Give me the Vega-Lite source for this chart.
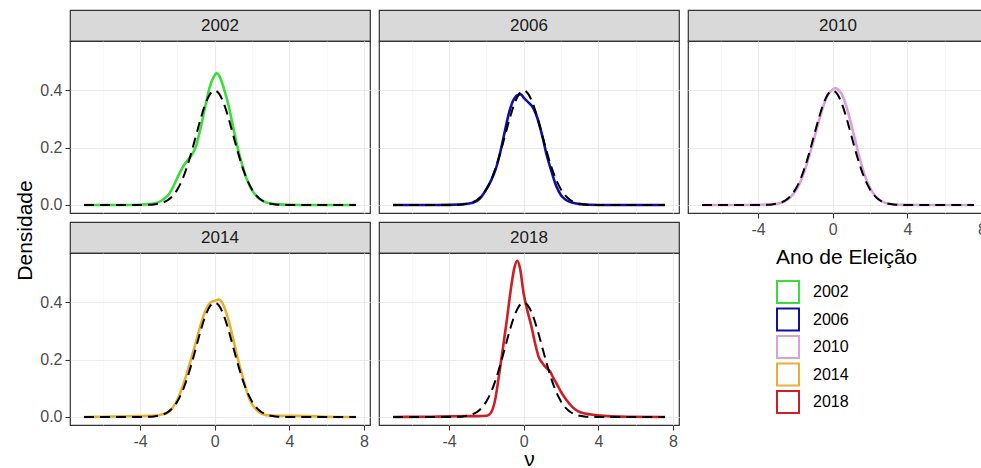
{
  "$schema": "https://vega.github.io/schema/vega-lite/v6.json",
  "padding": {"left": 13, "top": 9, "right": 0, "bottom": 0},
  "background": "white",
  "config": {
    "font": "Liberation Sans",
    "axis": {"domain": false, "tickColor": "#333333", "tickSize": 5, "tickWidth": 1.1, "labelColor": "#4D4D4D", "labelFontSize": 16, "labelPadding": 3, "labelFlush": false, "labelOverlap": false, "titleFontWeight": "normal", "titleColor": "black", "titleFontSize": 21},
    "legend": {"titleFontWeight": "normal", "titleFontSize": 21, "titleColor": "black", "labelFontSize": 16, "labelColor": "black", "symbolType": "square", "symbolSize": 484, "symbolStrokeWidth": 2, "symbolFillColor": "transparent", "labelOffset": 13, "rowPadding": -2.5, "titlePadding": 12}
  },
  "datasets": {
    "strips": [{"year": "2002"}, {"year": "2006"}, {"year": "2010"}, {"year": "2014"}, {"year": "2018"}],
    "norm": [
      {"x": -7.0, "y": 0}, {"x": -5.0, "y": 0}, {"x": -4.0, "y": 0.00013}, {"x": -3.5, "y": 0.00087}, {"x": -3.25, "y": 0.00203},
      {"x": -3.0, "y": 0.00443}, {"x": -2.75, "y": 0.00909}, {"x": -2.5, "y": 0.01753}, {"x": -2.25, "y": 0.03174}, {"x": -2.0, "y": 0.05399},
      {"x": -1.75, "y": 0.08628}, {"x": -1.5, "y": 0.12952}, {"x": -1.25, "y": 0.18265}, {"x": -1.0, "y": 0.24197}, {"x": -0.75, "y": 0.30114},
      {"x": -0.5, "y": 0.35207}, {"x": -0.25, "y": 0.38667}, {"x": 0.0, "y": 0.39894}, {"x": 0.25, "y": 0.38667}, {"x": 0.5, "y": 0.35207},
      {"x": 0.75, "y": 0.30114}, {"x": 1.0, "y": 0.24197}, {"x": 1.25, "y": 0.18265}, {"x": 1.5, "y": 0.12952}, {"x": 1.75, "y": 0.08628},
      {"x": 2.0, "y": 0.05399}, {"x": 2.25, "y": 0.03174}, {"x": 2.5, "y": 0.01753}, {"x": 2.75, "y": 0.00909}, {"x": 3.0, "y": 0.00443},
      {"x": 3.25, "y": 0.00203}, {"x": 3.5, "y": 0.00087}, {"x": 4.0, "y": 0.00013}, {"x": 5.0, "y": 0}, {"x": 7.57, "y": 0}
    ],
    "dens": [
      {"year": "2002", "x": -7.0, "y": 0}, {"year": "2002", "x": -5.0, "y": 0}, {"year": "2002", "x": -4.0, "y": 0.001}, {"year": "2002", "x": -3.5, "y": 0.003},
      {"year": "2002", "x": -3.0, "y": 0.01}, {"year": "2002", "x": -2.75, "y": 0.02}, {"year": "2002", "x": -2.5, "y": 0.034}, {"year": "2002", "x": -2.25, "y": 0.06},
      {"year": "2002", "x": -2.0, "y": 0.095}, {"year": "2002", "x": -1.75, "y": 0.128}, {"year": "2002", "x": -1.5, "y": 0.152}, {"year": "2002", "x": -1.25, "y": 0.172},
      {"year": "2002", "x": -1.0, "y": 0.205}, {"year": "2002", "x": -0.75, "y": 0.27}, {"year": "2002", "x": -0.5, "y": 0.345}, {"year": "2002", "x": -0.25, "y": 0.415},
      {"year": "2002", "x": 0.0, "y": 0.452}, {"year": "2002", "x": 0.1, "y": 0.46}, {"year": "2002", "x": 0.25, "y": 0.45}, {"year": "2002", "x": 0.5, "y": 0.405},
      {"year": "2002", "x": 0.75, "y": 0.345}, {"year": "2002", "x": 1.0, "y": 0.268}, {"year": "2002", "x": 1.25, "y": 0.195}, {"year": "2002", "x": 1.5, "y": 0.135},
      {"year": "2002", "x": 1.75, "y": 0.085}, {"year": "2002", "x": 2.0, "y": 0.052}, {"year": "2002", "x": 2.25, "y": 0.03}, {"year": "2002", "x": 2.5, "y": 0.017},
      {"year": "2002", "x": 2.75, "y": 0.009}, {"year": "2002", "x": 3.0, "y": 0.005}, {"year": "2002", "x": 3.5, "y": 0.002}, {"year": "2002", "x": 4.0, "y": 0.001},
      {"year": "2002", "x": 5.0, "y": 0}, {"year": "2002", "x": 7.57, "y": 0},

      {"year": "2006", "x": -7.0, "y": 0}, {"year": "2006", "x": -5.0, "y": 0}, {"year": "2006", "x": -4.0, "y": 0.0005}, {"year": "2006", "x": -3.0, "y": 0.004},
      {"year": "2006", "x": -2.5, "y": 0.014}, {"year": "2006", "x": -2.25, "y": 0.03}, {"year": "2006", "x": -2.0, "y": 0.055}, {"year": "2006", "x": -1.75, "y": 0.085},
      {"year": "2006", "x": -1.5, "y": 0.125}, {"year": "2006", "x": -1.25, "y": 0.185}, {"year": "2006", "x": -1.0, "y": 0.26}, {"year": "2006", "x": -0.75, "y": 0.33},
      {"year": "2006", "x": -0.5, "y": 0.372}, {"year": "2006", "x": -0.25, "y": 0.385}, {"year": "2006", "x": -0.15, "y": 0.386}, {"year": "2006", "x": 0.0, "y": 0.374},
      {"year": "2006", "x": 0.25, "y": 0.358}, {"year": "2006", "x": 0.5, "y": 0.34}, {"year": "2006", "x": 0.75, "y": 0.3}, {"year": "2006", "x": 1.0, "y": 0.24},
      {"year": "2006", "x": 1.25, "y": 0.17}, {"year": "2006", "x": 1.5, "y": 0.115}, {"year": "2006", "x": 1.75, "y": 0.065}, {"year": "2006", "x": 2.0, "y": 0.034},
      {"year": "2006", "x": 2.25, "y": 0.018}, {"year": "2006", "x": 2.5, "y": 0.01}, {"year": "2006", "x": 2.75, "y": 0.006}, {"year": "2006", "x": 3.0, "y": 0.003},
      {"year": "2006", "x": 3.5, "y": 0.001}, {"year": "2006", "x": 4.5, "y": 0}, {"year": "2006", "x": 7.57, "y": 0},

      {"year": "2010", "x": -7.0, "y": 0}, {"year": "2010", "x": -5.0, "y": 0}, {"year": "2010", "x": -4.0, "y": 0.0003}, {"year": "2010", "x": -3.5, "y": 0.0012},
      {"year": "2010", "x": -3.0, "y": 0.004}, {"year": "2010", "x": -2.75, "y": 0.008}, {"year": "2010", "x": -2.5, "y": 0.015}, {"year": "2010", "x": -2.25, "y": 0.028},
      {"year": "2010", "x": -2.0, "y": 0.048}, {"year": "2010", "x": -1.75, "y": 0.078}, {"year": "2010", "x": -1.5, "y": 0.12}, {"year": "2010", "x": -1.25, "y": 0.172},
      {"year": "2010", "x": -1.0, "y": 0.23}, {"year": "2010", "x": -0.75, "y": 0.29}, {"year": "2010", "x": -0.5, "y": 0.345}, {"year": "2010", "x": -0.25, "y": 0.385},
      {"year": "2010", "x": 0.0, "y": 0.403}, {"year": "2010", "x": 0.15, "y": 0.408}, {"year": "2010", "x": 0.25, "y": 0.405}, {"year": "2010", "x": 0.5, "y": 0.385},
      {"year": "2010", "x": 0.75, "y": 0.34}, {"year": "2010", "x": 1.0, "y": 0.28}, {"year": "2010", "x": 1.25, "y": 0.215}, {"year": "2010", "x": 1.5, "y": 0.15},
      {"year": "2010", "x": 1.75, "y": 0.098}, {"year": "2010", "x": 2.0, "y": 0.06}, {"year": "2010", "x": 2.25, "y": 0.034}, {"year": "2010", "x": 2.5, "y": 0.018},
      {"year": "2010", "x": 2.75, "y": 0.009}, {"year": "2010", "x": 3.0, "y": 0.004}, {"year": "2010", "x": 3.5, "y": 0.001}, {"year": "2010", "x": 4.0, "y": 0.0002},
      {"year": "2010", "x": 5.0, "y": 0}, {"year": "2010", "x": 7.57, "y": 0},

      {"year": "2014", "x": -7.0, "y": 0}, {"year": "2014", "x": -6.0, "y": 0.001}, {"year": "2014", "x": -5.0, "y": 0.002}, {"year": "2014", "x": -4.0, "y": 0.003},
      {"year": "2014", "x": -3.5, "y": 0.004}, {"year": "2014", "x": -3.0, "y": 0.006}, {"year": "2014", "x": -2.75, "y": 0.01}, {"year": "2014", "x": -2.5, "y": 0.016},
      {"year": "2014", "x": -2.25, "y": 0.033}, {"year": "2014", "x": -2.0, "y": 0.06}, {"year": "2014", "x": -1.75, "y": 0.1}, {"year": "2014", "x": -1.5, "y": 0.15},
      {"year": "2014", "x": -1.25, "y": 0.205}, {"year": "2014", "x": -1.0, "y": 0.262}, {"year": "2014", "x": -0.75, "y": 0.322}, {"year": "2014", "x": -0.5, "y": 0.37},
      {"year": "2014", "x": -0.25, "y": 0.398}, {"year": "2014", "x": 0.0, "y": 0.405}, {"year": "2014", "x": 0.2, "y": 0.41}, {"year": "2014", "x": 0.3, "y": 0.407},
      {"year": "2014", "x": 0.5, "y": 0.385}, {"year": "2014", "x": 0.75, "y": 0.335}, {"year": "2014", "x": 1.0, "y": 0.27}, {"year": "2014", "x": 1.25, "y": 0.2},
      {"year": "2014", "x": 1.5, "y": 0.14}, {"year": "2014", "x": 1.75, "y": 0.082}, {"year": "2014", "x": 2.0, "y": 0.045}, {"year": "2014", "x": 2.25, "y": 0.024},
      {"year": "2014", "x": 2.5, "y": 0.012}, {"year": "2014", "x": 2.75, "y": 0.007}, {"year": "2014", "x": 3.0, "y": 0.005}, {"year": "2014", "x": 4.0, "y": 0.004},
      {"year": "2014", "x": 5.0, "y": 0.003}, {"year": "2014", "x": 5.5, "y": 0.002}, {"year": "2014", "x": 6.0, "y": 0.001}, {"year": "2014", "x": 7.57, "y": 0},

      {"year": "2018", "x": -7.0, "y": 0}, {"year": "2018", "x": -5.0, "y": 0.001}, {"year": "2018", "x": -4.0, "y": 0.002}, {"year": "2018", "x": -3.0, "y": 0.003},
      {"year": "2018", "x": -2.5, "y": 0.003}, {"year": "2018", "x": -2.0, "y": 0.004}, {"year": "2018", "x": -1.88, "y": 0.007}, {"year": "2018", "x": -1.75, "y": 0.015},
      {"year": "2018", "x": -1.6, "y": 0.04}, {"year": "2018", "x": -1.5, "y": 0.07}, {"year": "2018", "x": -1.3, "y": 0.155}, {"year": "2018", "x": -1.1, "y": 0.245},
      {"year": "2018", "x": -0.9, "y": 0.34}, {"year": "2018", "x": -0.7, "y": 0.44}, {"year": "2018", "x": -0.5, "y": 0.52}, {"year": "2018", "x": -0.35, "y": 0.545},
      {"year": "2018", "x": -0.2, "y": 0.52}, {"year": "2018", "x": 0.0, "y": 0.43}, {"year": "2018", "x": 0.2, "y": 0.37}, {"year": "2018", "x": 0.4, "y": 0.32},
      {"year": "2018", "x": 0.6, "y": 0.26}, {"year": "2018", "x": 0.8, "y": 0.21}, {"year": "2018", "x": 1.0, "y": 0.188}, {"year": "2018", "x": 1.2, "y": 0.172},
      {"year": "2018", "x": 1.4, "y": 0.16}, {"year": "2018", "x": 1.6, "y": 0.135}, {"year": "2018", "x": 1.8, "y": 0.112}, {"year": "2018", "x": 2.0, "y": 0.088},
      {"year": "2018", "x": 2.3, "y": 0.058}, {"year": "2018", "x": 2.6, "y": 0.035}, {"year": "2018", "x": 2.9, "y": 0.02}, {"year": "2018", "x": 3.3, "y": 0.012},
      {"year": "2018", "x": 3.8, "y": 0.007}, {"year": "2018", "x": 4.5, "y": 0.003}, {"year": "2018", "x": 5.5, "y": 0.001}, {"year": "2018", "x": 7.57, "y": 0}
    ]
  },
  "columns": 3,
  "spacing": {"row": 0, "column": 9},
  "bounds": "flush",
  "align": "each",
  "concat": [
    {"width": 300, "height": 31, "view": {"fill": "#D9D9D9", "stroke": "#333333", "strokeWidth": 1.2}, "data": {"name": "strips"}, "transform": [{"filter": "datum.year === '2002'"}], "mark": {"type": "text", "fontSize": 17, "color": "#1A1A1A", "baseline": "middle"}, "encoding": {"text": {"field": "year"}}},
    {"width": 300, "height": 31, "view": {"fill": "#D9D9D9", "stroke": "#333333", "strokeWidth": 1.2}, "data": {"name": "strips"}, "transform": [{"filter": "datum.year === '2006'"}], "mark": {"type": "text", "fontSize": 17, "color": "#1A1A1A", "baseline": "middle"}, "encoding": {"text": {"field": "year"}}},
    {"width": 300, "height": 31, "view": {"fill": "#D9D9D9", "stroke": "#333333", "strokeWidth": 1.2}, "data": {"name": "strips"}, "transform": [{"filter": "datum.year === '2010'"}], "mark": {"type": "text", "fontSize": 17, "color": "#1A1A1A", "baseline": "middle"}, "encoding": {"text": {"field": "year"}}},
    {
      "width": 300, "height": 172, "view": {"stroke": "#333333", "strokeWidth": 1.2},
      "layer": [
        {"data": {"name": "dens"}, "transform": [{"filter": "datum.year === '2002'"}], "mark": {"type": "line", "strokeWidth": 2.6, "interpolate": "monotone"},
          "encoding": {
            "x": {"field": "x", "type": "quantitative", "scale": {"domain": [-7.75, 8.32], "nice": false, "zero": false}, "axis": {"values": [-6, -4, -2, 0, 2, 4, 6, 8], "labels": false, "ticks": false, "title": null, "gridColor": {"condition": {"test": "datum.value % 4 === 0", "value": "#EBEBEB"}, "value": "#F3F3F3"}, "gridWidth": {"condition": {"test": "datum.value % 4 === 0", "value": 1.2}, "value": 0.6}}},
            "y": {"field": "y", "type": "quantitative", "scale": {"domain": [-0.028, 0.572], "nice": false, "zero": false}, "axis": {"values": [0, 0.1, 0.2, 0.3, 0.4, 0.5], "title": null, "labelExpr": "round(datum.value*10) % 2 === 0 ? format(datum.value, '.1f') : ''", "tickOpacity": {"condition": {"test": "round(datum.value*10) % 2 === 0", "value": 1}, "value": 0}, "gridColor": {"condition": {"test": "round(datum.value*10) % 2 === 0", "value": "#EBEBEB"}, "value": "#F3F3F3"}, "gridWidth": {"condition": {"test": "round(datum.value*10) % 2 === 0", "value": 1.2}, "value": 0.6}}},
            "color": {"field": "year", "type": "nominal", "scale": {"domain": ["2002", "2006", "2010", "2014", "2018"], "range": ["#3BDC3B", "#1111A0", "#DA9FDD", "#E8B030", "#CC1F26"]}, "legend": {"title": "Ano de Eleição", "orient": "none", "legendX": 706, "legendY": 237}}
          }},
        {"data": {"name": "norm"}, "mark": {"type": "line", "color": "black", "strokeWidth": 2, "strokeDash": [10, 6], "interpolate": "monotone"},
          "encoding": {"x": {"field": "x", "type": "quantitative"}, "y": {"field": "y", "type": "quantitative"}}}
      ]
    },
    {
      "width": 300, "height": 172, "view": {"stroke": "#333333", "strokeWidth": 1.2},
      "layer": [
        {"data": {"name": "dens"}, "transform": [{"filter": "datum.year === '2006'"}], "mark": {"type": "line", "strokeWidth": 2.6, "interpolate": "monotone"},
          "encoding": {
            "x": {"field": "x", "type": "quantitative", "scale": {"domain": [-7.75, 8.32], "nice": false, "zero": false}, "axis": {"values": [-6, -4, -2, 0, 2, 4, 6, 8], "labels": false, "ticks": false, "title": null, "gridColor": {"condition": {"test": "datum.value % 4 === 0", "value": "#EBEBEB"}, "value": "#F3F3F3"}, "gridWidth": {"condition": {"test": "datum.value % 4 === 0", "value": 1.2}, "value": 0.6}}},
            "y": {"field": "y", "type": "quantitative", "scale": {"domain": [-0.028, 0.572], "nice": false, "zero": false}, "axis": {"values": [0, 0.1, 0.2, 0.3, 0.4, 0.5], "labels": false, "ticks": false, "title": null, "gridColor": {"condition": {"test": "round(datum.value*10) % 2 === 0", "value": "#EBEBEB"}, "value": "#F3F3F3"}, "gridWidth": {"condition": {"test": "round(datum.value*10) % 2 === 0", "value": 1.2}, "value": 0.6}}},
            "color": {"field": "year", "type": "nominal", "scale": {"domain": ["2002", "2006", "2010", "2014", "2018"], "range": ["#3BDC3B", "#1111A0", "#DA9FDD", "#E8B030", "#CC1F26"]}, "legend": {"title": "Ano de Eleição", "orient": "none", "legendX": 706, "legendY": 237}}
          }},
        {"data": {"name": "norm"}, "mark": {"type": "line", "color": "black", "strokeWidth": 2, "strokeDash": [10, 6], "interpolate": "monotone"},
          "encoding": {"x": {"field": "x", "type": "quantitative"}, "y": {"field": "y", "type": "quantitative"}}}
      ]
    },
    {
      "width": 300, "height": 172, "view": {"stroke": "#333333", "strokeWidth": 1.2},
      "layer": [
        {"data": {"name": "dens"}, "transform": [{"filter": "datum.year === '2010'"}], "mark": {"type": "line", "strokeWidth": 2.6, "interpolate": "monotone"},
          "encoding": {
            "x": {"field": "x", "type": "quantitative", "scale": {"domain": [-7.75, 8.32], "nice": false, "zero": false}, "axis": {"values": [-6, -4, -2, 0, 2, 4, 6, 8], "title": null, "labelExpr": "datum.value % 4 === 0 ? '' + datum.value : ''", "tickOpacity": {"condition": {"test": "datum.value % 4 === 0", "value": 1}, "value": 0}, "gridColor": {"condition": {"test": "datum.value % 4 === 0", "value": "#EBEBEB"}, "value": "#F3F3F3"}, "gridWidth": {"condition": {"test": "datum.value % 4 === 0", "value": 1.2}, "value": 0.6}}},
            "y": {"field": "y", "type": "quantitative", "scale": {"domain": [-0.028, 0.572], "nice": false, "zero": false}, "axis": {"values": [0, 0.1, 0.2, 0.3, 0.4, 0.5], "labels": false, "ticks": false, "title": null, "gridColor": {"condition": {"test": "round(datum.value*10) % 2 === 0", "value": "#EBEBEB"}, "value": "#F3F3F3"}, "gridWidth": {"condition": {"test": "round(datum.value*10) % 2 === 0", "value": 1.2}, "value": 0.6}}},
            "color": {"field": "year", "type": "nominal", "scale": {"domain": ["2002", "2006", "2010", "2014", "2018"], "range": ["#3BDC3B", "#1111A0", "#DA9FDD", "#E8B030", "#CC1F26"]}, "legend": {"title": "Ano de Eleição", "orient": "none", "legendX": 706, "legendY": 237}}
          }},
        {"data": {"name": "norm"}, "mark": {"type": "line", "color": "black", "strokeWidth": 2, "strokeDash": [10, 6], "interpolate": "monotone"},
          "encoding": {"x": {"field": "x", "type": "quantitative"}, "y": {"field": "y", "type": "quantitative"}}}
      ]
    },
    {"width": 300, "height": 9, "view": {"stroke": null}, "data": {"values": []}, "mark": "point"},
    {"width": 300, "height": 9, "view": {"stroke": null}, "data": {"values": []}, "mark": "point"},
    {"width": 300, "height": 9, "view": {"stroke": null}, "data": {"values": []}, "mark": "point"},
    {"width": 300, "height": 31, "view": {"fill": "#D9D9D9", "stroke": "#333333", "strokeWidth": 1.2}, "data": {"name": "strips"}, "transform": [{"filter": "datum.year === '2014'"}], "mark": {"type": "text", "fontSize": 17, "color": "#1A1A1A", "baseline": "middle"}, "encoding": {"text": {"field": "year"}}},
    {"width": 300, "height": 31, "view": {"fill": "#D9D9D9", "stroke": "#333333", "strokeWidth": 1.2}, "data": {"name": "strips"}, "transform": [{"filter": "datum.year === '2018'"}], "mark": {"type": "text", "fontSize": 17, "color": "#1A1A1A", "baseline": "middle"}, "encoding": {"text": {"field": "year"}}},
    {"width": 300, "height": 31, "view": {"stroke": null}, "data": {"values": []}, "mark": "point"},
    {
      "width": 300, "height": 172, "view": {"stroke": "#333333", "strokeWidth": 1.2},
      "layer": [
        {"data": {"name": "dens"}, "transform": [{"filter": "datum.year === '2014'"}], "mark": {"type": "line", "strokeWidth": 2.6, "interpolate": "monotone"},
          "encoding": {
            "x": {"field": "x", "type": "quantitative", "scale": {"domain": [-7.75, 8.32], "nice": false, "zero": false}, "axis": {"values": [-6, -4, -2, 0, 2, 4, 6, 8], "title": null, "labelExpr": "datum.value % 4 === 0 ? '' + datum.value : ''", "tickOpacity": {"condition": {"test": "datum.value % 4 === 0", "value": 1}, "value": 0}, "gridColor": {"condition": {"test": "datum.value % 4 === 0", "value": "#EBEBEB"}, "value": "#F3F3F3"}, "gridWidth": {"condition": {"test": "datum.value % 4 === 0", "value": 1.2}, "value": 0.6}}},
            "y": {"field": "y", "type": "quantitative", "scale": {"domain": [-0.028, 0.572], "nice": false, "zero": false}, "axis": {"values": [0, 0.1, 0.2, 0.3, 0.4, 0.5], "title": "Densidade", "titleX": -35, "titleY": -23, "labelExpr": "round(datum.value*10) % 2 === 0 ? format(datum.value, '.1f') : ''", "tickOpacity": {"condition": {"test": "round(datum.value*10) % 2 === 0", "value": 1}, "value": 0}, "gridColor": {"condition": {"test": "round(datum.value*10) % 2 === 0", "value": "#EBEBEB"}, "value": "#F3F3F3"}, "gridWidth": {"condition": {"test": "round(datum.value*10) % 2 === 0", "value": 1.2}, "value": 0.6}}},
            "color": {"field": "year", "type": "nominal", "scale": {"domain": ["2002", "2006", "2010", "2014", "2018"], "range": ["#3BDC3B", "#1111A0", "#DA9FDD", "#E8B030", "#CC1F26"]}, "legend": {"title": "Ano de Eleição", "orient": "none", "legendX": 706, "legendY": 237}}
          }},
        {"data": {"name": "norm"}, "mark": {"type": "line", "color": "black", "strokeWidth": 2, "strokeDash": [10, 6], "interpolate": "monotone"},
          "encoding": {"x": {"field": "x", "type": "quantitative"}, "y": {"field": "y", "type": "quantitative"}}}
      ]
    },
    {
      "width": 300, "height": 172, "view": {"stroke": "#333333", "strokeWidth": 1.2},
      "layer": [
        {"data": {"name": "dens"}, "transform": [{"filter": "datum.year === '2018'"}], "mark": {"type": "line", "strokeWidth": 2.6, "interpolate": "monotone"},
          "encoding": {
            "x": {"field": "x", "type": "quantitative", "scale": {"domain": [-7.75, 8.32], "nice": false, "zero": false}, "axis": {"values": [-6, -4, -2, 0, 2, 4, 6, 8], "title": "ν", "titleX": 150, "titleY": 40, "titleBaseline": "alphabetic", "labelExpr": "datum.value % 4 === 0 ? '' + datum.value : ''", "tickOpacity": {"condition": {"test": "datum.value % 4 === 0", "value": 1}, "value": 0}, "gridColor": {"condition": {"test": "datum.value % 4 === 0", "value": "#EBEBEB"}, "value": "#F3F3F3"}, "gridWidth": {"condition": {"test": "datum.value % 4 === 0", "value": 1.2}, "value": 0.6}}},
            "y": {"field": "y", "type": "quantitative", "scale": {"domain": [-0.028, 0.572], "nice": false, "zero": false}, "axis": {"values": [0, 0.1, 0.2, 0.3, 0.4, 0.5], "labels": false, "ticks": false, "title": null, "gridColor": {"condition": {"test": "round(datum.value*10) % 2 === 0", "value": "#EBEBEB"}, "value": "#F3F3F3"}, "gridWidth": {"condition": {"test": "round(datum.value*10) % 2 === 0", "value": 1.2}, "value": 0.6}}},
            "color": {"field": "year", "type": "nominal", "scale": {"domain": ["2002", "2006", "2010", "2014", "2018"], "range": ["#3BDC3B", "#1111A0", "#DA9FDD", "#E8B030", "#CC1F26"]}, "legend": {"title": "Ano de Eleição", "orient": "none", "legendX": 706, "legendY": 237}}
          }},
        {"data": {"name": "norm"}, "mark": {"type": "line", "color": "black", "strokeWidth": 2, "strokeDash": [10, 6], "interpolate": "monotone"},
          "encoding": {"x": {"field": "x", "type": "quantitative"}, "y": {"field": "y", "type": "quantitative"}}}
      ]
    }
  ]
}
